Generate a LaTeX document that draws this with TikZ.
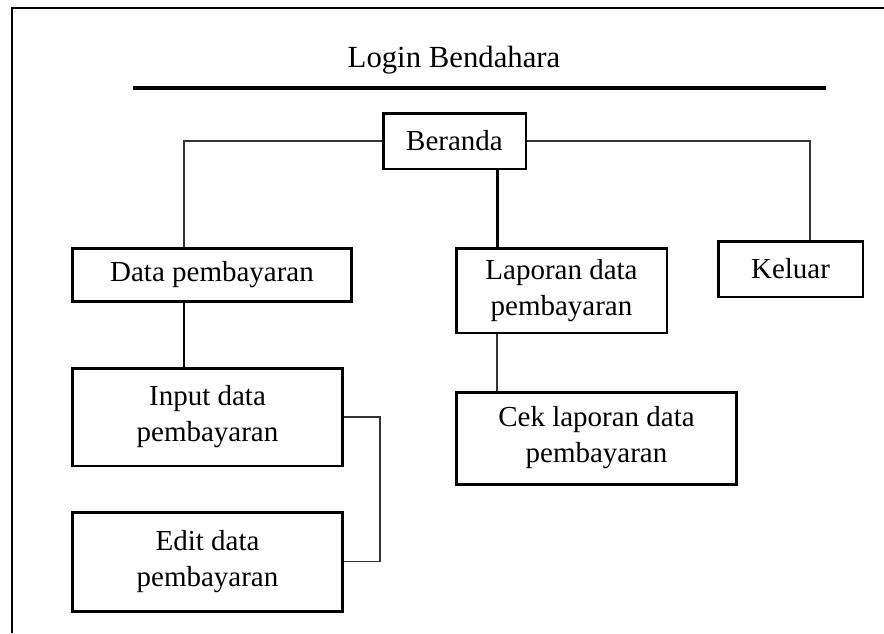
\documentclass[tikz,border=0pt]{standalone}
\usepackage{fontspec}
\setmainfont{Liberation Serif}
\usetikzlibrary{positioning}
\tikzset{
  menubox/.style={draw, line width=1.7pt, align=center, inner sep=0pt,
    font=\fontsize{16.5}{20.5}\selectfont},
  thinline/.style={line width=0.9pt, black!80},
  thickline/.style={line width=1.7pt}
}
\begin{document}
\begin{tikzpicture}[x=0.02cm, y=-0.02cm]
    \useasboundingbox (0,0) rectangle (884,633);

    % Frame (cut at right and bottom)
    \draw[line width=1.6pt] (12,633) -- (12,8) -- (884,8);

    % Title
    \node[font=\fontsize{17.5}{21}\selectfont] (title) at (454, 60) {Login Bendahara};
    \draw[line width=2.6pt] (133, 88) -- (826, 88);

    % Spines of the connectors
    \coordinate (spineL) at (184, 0);
    \coordinate (spineM) at (497, 0);
    \coordinate (spineK) at (810, 0);
    \coordinate (brk) at (380, 0);

    % Menu boxes
    \node[menubox, minimum width=2.86cm, minimum height=1.12cm] (beranda) at (454.5, 141) {Beranda};
    \node[menubox, minimum width=5.6cm, minimum height=1.06cm] (datapb) at (212, 274.5) {Data pembayaran};
    \node[menubox, minimum width=4.22cm, minimum height=1.7cm] (laporan) at (561.5, 290.5) {Laporan data\\pembayaran};
    \node[menubox, minimum width=2.9cm, minimum height=1.12cm] (keluar) at (790.5, 269) {Keluar};
    \node[menubox, minimum width=5.42cm, minimum height=1.96cm] (input) at (207.5, 417) {Input data\\pembayaran};
    \node[menubox, minimum width=5.42cm, minimum height=1.98cm] (edit) at (207.5, 561.5) {Edit data\\pembayaran};
    \node[menubox, minimum width=5.62cm, minimum height=1.84cm] (cek) at (596.5, 438) {Cek laporan data\\pembayaran};

    % Connectors
    \draw[thinline] (beranda.west) -| (datapb.north -| spineL);
    \draw[thinline] (beranda.east) -| (keluar.north -| spineK);
    \draw[thickline] (beranda.south -| spineM) -- (laporan.north -| spineM);
    \draw[thinline] (laporan.south -| spineM) -- (cek.north -| spineM);
    \draw[thickline] (datapb.south -| spineL) -- (input.north -| spineL);
    \draw[thinline] (input.east) -- (input.east -| brk) -- (edit.east -| brk) -- (edit.east);
\end{tikzpicture}
\end{document}
